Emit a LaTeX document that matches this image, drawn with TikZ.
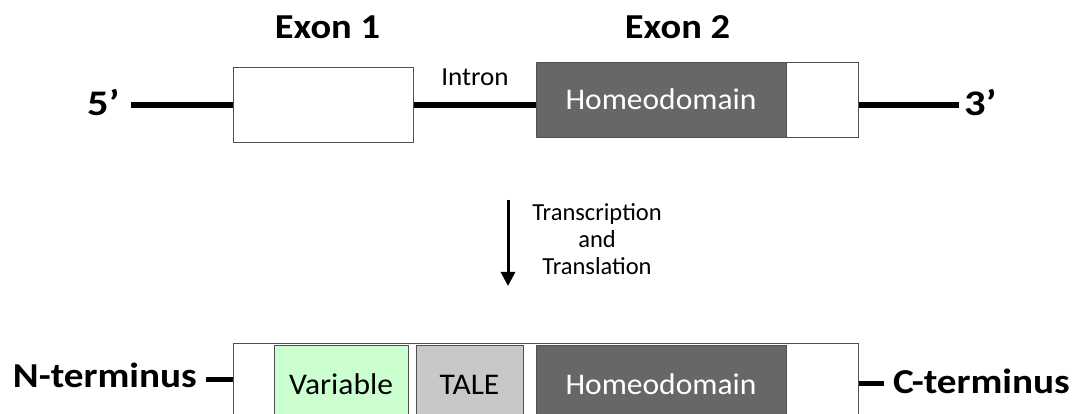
\documentclass[tikz,border=0pt]{standalone}
\usepackage{fontspec}
\usepackage{graphicx}
\setmainfont{Carlito}
\usetikzlibrary{arrows.meta}
\definecolor{hdgray}{HTML}{676767}
\definecolor{varg}{HTML}{CCFFD0}
\definecolor{taleg}{HTML}{C8C8C8}
\definecolor{edge}{HTML}{505050}
\newcommand\stx[2]{\scalebox{#1}[1]{#2}}
\begin{document}
\begin{tikzpicture}[x=1pt,y=-1pt,
  box/.style={draw=edge,line width=1.4pt,rectangle,inner sep=0pt,anchor=north west},
  dna/.style={line width=5.5pt},
  tag/.style={font=\fontsize{35}{40}\selectfont\bfseries,inner sep=0pt,anchor=base},
  end/.style={font=\fontsize{36}{40}\selectfont\bfseries,inner sep=0pt},
  txt/.style={font=\fontsize{30}{34}\selectfont,inner sep=0pt,anchor=base},
  small/.style={font=\fontsize{24.5}{28}\selectfont,inner sep=0pt,align=center}]
\useasboundingbox (0,0) rectangle (1077,414);
\fill[white] (0,0) rectangle (1077,414);
\clip (0,0) rectangle (1077,414);
% gene
\node[box,fill=white,minimum width=180pt,minimum height=75pt] (ex1) at (233,67) {};
\node[box,fill=hdgray,minimum width=250pt,minimum height=75pt] (hd1) at (536,62) {};
\node[box,fill=white,minimum width=72pt,minimum height=75pt] (ex2w) at (786,62) {};
\node[txt,text=white] (hd1t) at (661,110) {\stx{1.05}{Homeodomain}};
\coordinate (l5) at (131,105);
\coordinate (l3) at (959,105);
\draw[dna] (l5) -- (l5 -| ex1.west);
\draw[dna] (ex1.east |- l5) -- (hd1.west |- l5);
\draw[dna] (ex2w.east |- l3) -- (l3);
\node[tag] (e1) at (327.5,39) {\stx{1.1}{Exon 1}};
\node[tag] (e2) at (677.5,39) {\stx{1.1}{Exon 2}};
\node[end,anchor=base west] (p5) at (87,116) {\stx{1.18}{5’}};
\node[end,anchor=base west] (p3) at (964,116) {\stx{1.18}{3’}};
\node[font=\fontsize{26}{30}\selectfont,inner sep=0pt,anchor=base] (intr) at (475,86) {\stx{1.04}{Intron}};
% arrow
\coordinate (a1) at (508,200);
\coordinate (a2) at (508,286);
\draw[line width=3pt,-{Triangle[width=14pt,length=14pt]}] (a1) -- (a2);
\node[small] (tt) at (597,239) {Transcription\\[-1pt]and\\[-1pt]Translation};
% protein
\node[box,fill=white,minimum width=625pt,minimum height=90pt] (prot) at (233,343) {};
\node[box,fill=varg,minimum width=134pt,minimum height=90pt] (var) at (274,345) {};
\node[box,fill=taleg,minimum width=107pt,minimum height=90pt] (tale) at (416,345) {};
\node[box,fill=hdgray,minimum width=250pt,minimum height=90pt] (hd2) at (536,345) {};
\node[txt] (vart) at (341,394) {\stx{1.05}{Variable}};
\node[txt] (talet) at (469.5,394) {\stx{1.05}{TALE}};
\node[txt,text=white] (hd2t) at (661,394) {\stx{1.05}{Homeodomain}};
\node[tag,anchor=base east] (nt) at (197,387) {\stx{1.12}{N-terminus}};
\node[tag,anchor=base west] (ct) at (893,393) {\stx{1.12}{C-terminus}};
\coordinate (nd) at (206,379);
\coordinate (cd) at (884,383);
\draw[line width=5pt] (nd) -- (nd -| prot.west);
\draw[line width=5pt] (prot.east |- cd) -- (cd);
\end{tikzpicture}
\end{document}
